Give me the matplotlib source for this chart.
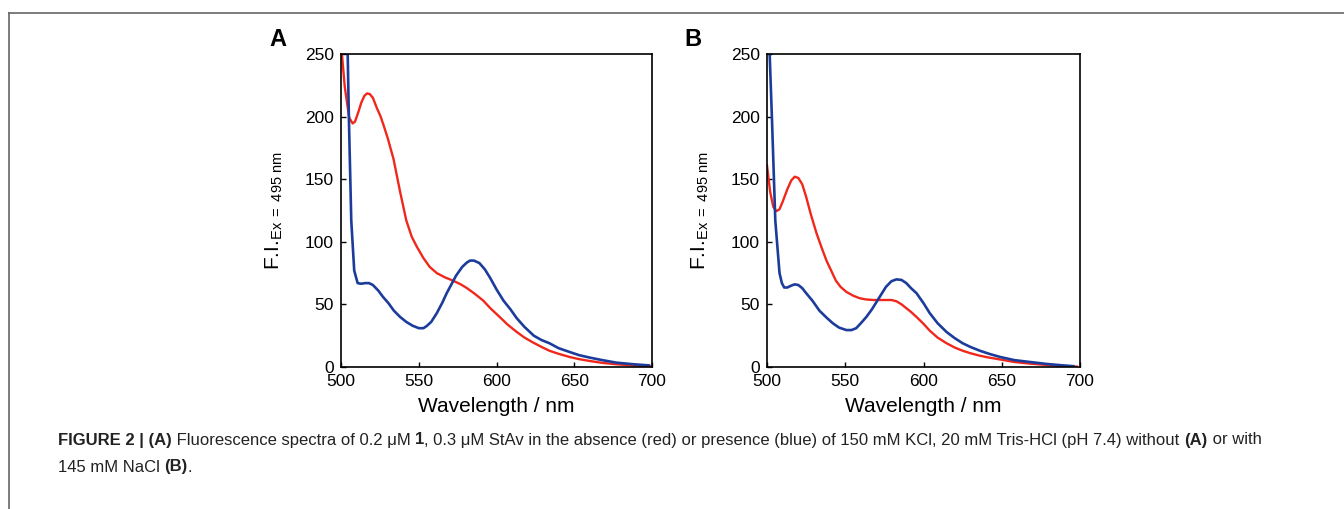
import matplotlib

matplotlib.use("Agg")
import matplotlib.pyplot as plt
from matplotlib.lines import Line2D

plt.rcParams["font.family"] = ["Liberation Sans", "DejaVu Sans"]
plt.rcParams["mathtext.fontset"] = "custom"
plt.rcParams["mathtext.rm"] = "Liberation Sans"
plt.rcParams["mathtext.it"] = "Liberation Sans:italic"
plt.rcParams["mathtext.bf"] = "Liberation Sans:bold"

RED = "#f0281c"
BLUE = "#1c3c9c"

# panel A, no KCl (red)
a_red_x = [500.6, 502.4, 504, 505.3, 507.5, 509, 511, 513, 515, 516.7, 518.5, 520.5, 523, 525.5,
           527.4, 530, 533.8, 538, 542, 545.5, 548.8, 553, 557, 561.6, 567, 572, 577, 581, 586,
           591.5, 596, 602, 607, 613, 618, 623.6, 629, 634, 640, 647, 653, 660, 668, 677, 688, 700]
a_red_y = [250, 224, 210, 199, 194.5, 196, 203, 211, 216.5, 218.5, 218, 215, 207, 200,
           193, 183, 166, 140, 117, 104, 96, 87, 80, 75, 71.5, 69, 66, 63, 58.5,
           53, 47, 40, 34, 28, 23.5, 19.5, 16, 13, 10.5, 8, 6.3, 4.8, 3.3, 2.2, 1.2, 0.5]

# panel A, with KCl (blue)
a_blue_x = [504.3, 505.1, 506.6, 508.5, 510.7, 513, 515.5, 518, 520.5, 524, 527, 530.5, 534, 538,
            542, 546, 550, 553, 555, 558, 561.6, 565, 568, 571, 574, 578, 581, 583, 585.5, 589,
            592.5, 596, 600, 604.5, 609, 613, 618, 624, 629, 634, 640, 647, 653, 660, 668, 677,
            688, 698]
a_blue_y = [250, 197, 117, 77, 67, 66.5, 67, 67, 65.5, 61, 56, 51, 45, 40,
            36, 33, 31, 31, 32.6, 36, 43, 51, 59, 66, 73, 80, 83.5, 85, 85, 83,
            78, 71, 62, 53, 46, 39, 32, 25, 21.5, 19, 15, 12, 9.5, 7.5, 5.5, 3.5,
            2.2, 1.3]

# panel B, no KCl (red)
b_red_x = [500, 502, 504, 506, 508, 510, 513, 515.5, 517.7, 520, 522.5, 525, 528, 531.6, 535, 538,
           541, 544, 547, 550.7, 555, 559, 563, 568, 572, 576, 579.5, 582.7, 586, 589, 592,
           595.5, 600, 604, 609, 614.7, 620, 625, 630, 636, 642, 649, 658, 668, 679, 689, 698]
b_red_y = [161, 140, 128, 124.5, 126, 132, 142, 149, 152, 151, 146, 136, 122, 107, 95, 85,
           77, 69, 64, 60, 57, 55, 54, 53.5, 53.5, 53.5, 53.5, 52.5, 50, 47, 44,
           40, 34.5, 29, 23.5, 19, 15.5, 13, 11, 9, 7.5, 6, 4, 2.7, 1.6, 0.8, 0.3]

# panel B, with KCl (blue)
b_blue_x = [501.7, 503.2, 505.3, 508, 509.5, 511, 513, 515.5, 517.7, 520, 522.5, 525, 529, 533.5,
            538, 542, 546, 550.7, 554, 557, 560, 563.5, 567, 570, 573, 576, 579.5, 582.7, 586,
            589, 592, 595.5, 600, 604, 609, 614.7, 620, 625, 630, 636, 642, 649, 658, 668, 679,
            689, 695.7]
b_blue_y = [250, 197, 117, 75, 67, 63.5, 63.5, 65, 66, 65.5, 63, 59, 53, 45,
            39.5, 35, 31.5, 29.5, 29.5, 31, 35, 40, 46, 52, 58, 64, 68.5, 70, 69.5,
            67, 63, 59, 51, 43, 35, 28, 23, 19, 16, 13, 10.5, 8, 5.5, 4, 2.4,
            1.3, 0.7]

x_ticks = [500, 550, 600, 650, 700]
y_ticks = [0, 50, 100, 150, 200, 250]

W, H = 1344, 509
fig = plt.figure(figsize=(W / 100, H / 100), dpi=100)


def px_axes(left, top, right, bottom):
    return fig.add_axes([left / W, 1 - bottom / H, (right - left) / W, (bottom - top) / H])


def draw_panel(ax, red_x, red_y, blue_x, blue_y, letter, letter_x):
    ax.plot(red_x, red_y, color=RED, lw=1.7)
    ax.plot(blue_x, blue_y, color=BLUE, lw=1.9)
    ax.set_xlim(500, 700)
    ax.set_ylim(0, 250)
    ax.set_xticks(x_ticks)
    ax.set_yticks(y_ticks)
    ax.tick_params(direction="in", length=3.5, width=1, labelsize=12.5, colors="black")
    ax.tick_params(axis="x", pad=5)
    ax.tick_params(axis="y", pad=5)
    for spine in ax.spines.values():
        spine.set_linewidth(1.2)
    ax.set_xlabel("Wavelength / nm", fontsize=15, labelpad=6)
    ax.set_ylabel(r"F.I.$_{\mathrm{Ex\ =\ 495\ nm}}$", fontsize=15, labelpad=14)
    ax.text(letter_x, 1.045, letter, transform=ax.transAxes, fontsize=17, fontweight="bold",
            ha="center", va="center")


ax_a = px_axes(341, 54, 652, 367)
draw_panel(ax_a, a_red_x, a_red_y, a_blue_x, a_blue_y, "A", -0.203)
ax_b = px_axes(767, 54, 1080, 367)
draw_panel(ax_b, b_red_x, b_red_y, b_blue_x, b_blue_y, "B", -0.236)

# page frame lines
fig.add_artist(Line2D([9 / W, 1], [1 - 13 / H, 1 - 13 / H], color="#666666", lw=1.2))
fig.add_artist(Line2D([9 / W, 9 / W], [0, 1 - 13 / H], color="#666666", lw=1.2))

# caption with mixed bold / normal runs
caption_lines = [
    [("FIGURE 2 | (A)", "bold"), (" Fluorescence spectra of 0.2 μM ", "normal"), ("1", "bold"),
     (", 0.3 μM StAv in the absence (red) or presence (blue) of 150 mM KCl, 20 mM Tris-HCl (pH 7.4) without ",
      "normal"), ("(A)", "bold"), (" or with", "normal")],
    [("145 mM NaCl ", "normal"), ("(B)", "bold"), (".", "normal")],
]
caption_y = [440, 467]

fig.canvas.draw()
renderer = fig.canvas.get_renderer()
for runs, ypx in zip(caption_lines, caption_y):
    xpx = 58
    for text, weight in runs:
        t = fig.text(xpx / W, 1 - ypx / H, text, fontsize=12, fontweight=weight,
                     va="center", ha="left", color="#222222")
        bb = t.get_window_extent(renderer)
        xpx += bb.width

fig.savefig("out.png", dpi=100)
